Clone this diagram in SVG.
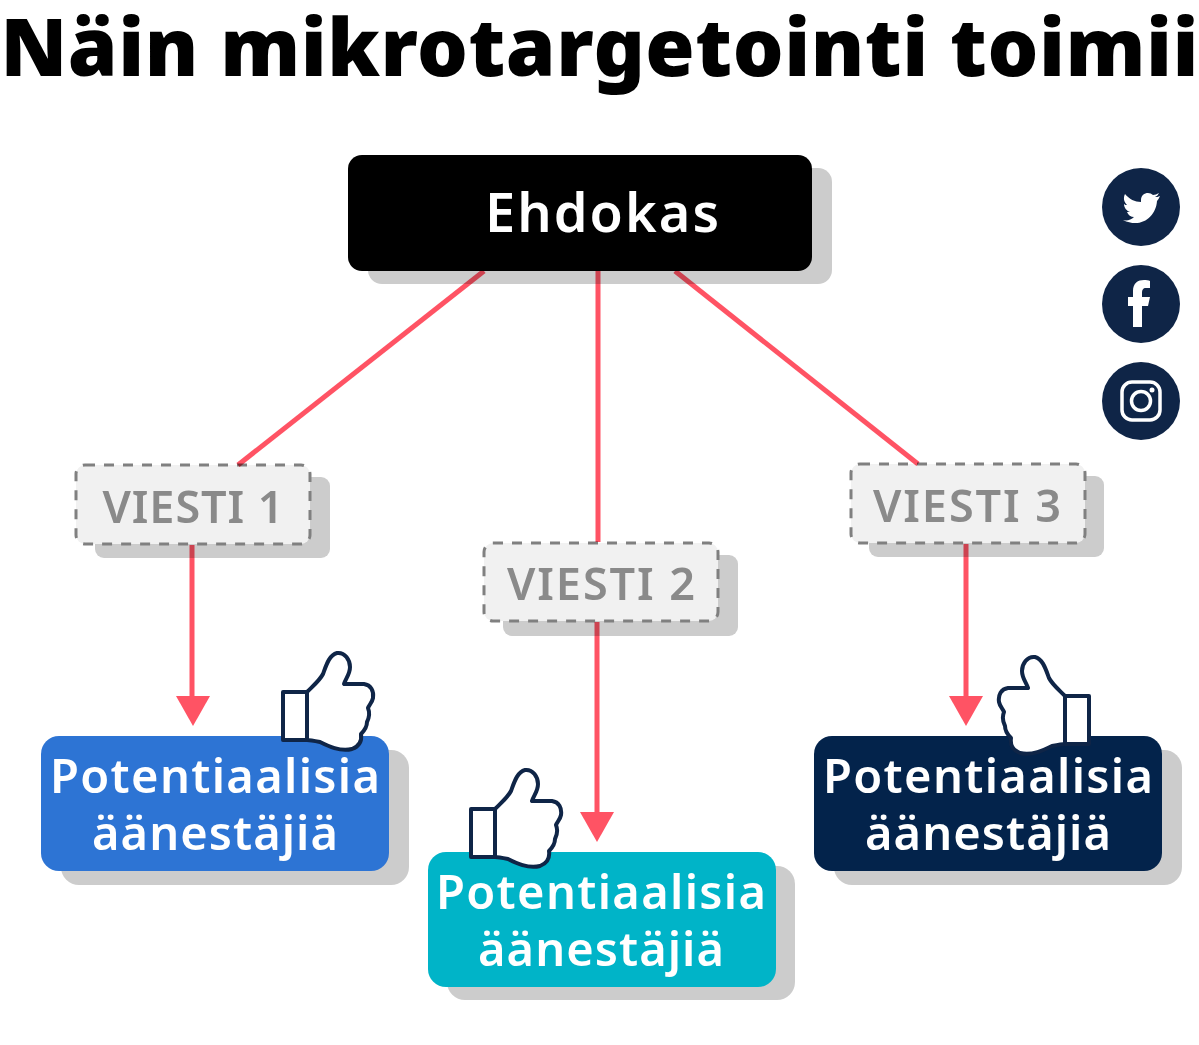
<svg xmlns="http://www.w3.org/2000/svg" width="1199" height="1045" viewBox="0 0 1199 1045">
<style>
text{font-family:"Noto Sans","Open Sans","DejaVu Sans",sans-serif;text-anchor:middle;font-variant-ligatures:none}
.shadow{fill:#cccccc}
.title{font-size:80px;font-weight:900;fill:#000}
.big{font-size:54px;font-weight:600;fill:#fff}
.msg{font-size:45px;font-weight:600;fill:#8a8a8a}
.msgbox{fill:#f1f1f1;stroke:#808080;stroke-width:3;stroke-dasharray:10 9}
.pot{font-size:47px;font-weight:600;fill:#fff}
.link{stroke:#ff5364;stroke-width:5;fill:none;mix-blend-mode:multiply}
.head{fill:#ff5364}
.thumb{fill:#fff;stroke:#0f2547;stroke-width:4;stroke-linejoin:round}
.soc{fill:#0f2547}
.glyph{fill:#fff}
.gl{fill:none;stroke:#fff}
</style>
<defs>
<g id="thumbup">
<path class="thumb" d="M47 52C54 45 60 40 63 34C66 26 69 15 77 13C85 12 90 20 90 27C90 34 86 38 84 44L104 44C111 45 114 51 113 58C112 63 109 65 108 68C110 73 109 78 107 82C107 87 104 91 101 94C102 101 100 106 92 109C80 112 68 106 60 102C55 101 50 100 47 100Z"/>
<rect class="thumb" x="23" y="52" width="24" height="48"/>
</g>
</defs>
<text id="title" class="title" x="599.5" y="76" textLength="1198" lengthAdjust="spacing">Näin mikrotargetointi toimii</text>
<g id="ehdokas">
<rect class="shadow" x="368" y="168" width="464" height="116" rx="14"/>
<rect x="348" y="155" width="464" height="116" rx="14" fill="#000"/>
<text class="big" x="602" y="232" textLength="234" lengthAdjust="spacing">Ehdokas</text>
</g>
<g id="viesti1">
<rect class="shadow" x="95" y="477" width="235" height="81" rx="9"/>
<rect class="msgbox" x="76" y="465" width="234" height="79" rx="9"/>
<text class="msg" x="193" y="523" textLength="181" lengthAdjust="spacing">VIESTI 1</text>
</g>
<g id="viesti2">
<rect class="shadow" x="503" y="555" width="235" height="81" rx="9"/>
<rect class="msgbox" x="484" y="543" width="234" height="78" rx="9"/>
<text class="msg" x="601" y="600" textLength="188" lengthAdjust="spacing">VIESTI 2</text>
</g>
<g id="viesti3">
<rect class="shadow" x="869" y="476" width="235" height="81" rx="9"/>
<rect class="msgbox" x="851" y="464" width="234" height="79" rx="9"/>
<text class="msg" x="967" y="522" textLength="188" lengthAdjust="spacing">VIESTI 3</text>
</g>
<g id="group1">
<rect class="shadow" x="61" y="750" width="348" height="135" rx="18"/>
<rect x="41" y="736" width="348" height="135" rx="18" fill="#2d74d4"/>
<text class="pot" x="215" y="793" textLength="330" lengthAdjust="spacing">Potentiaalisia</text>
<text class="pot" x="215" y="850" textLength="246" lengthAdjust="spacing">äänestäjiä</text>
<use href="#thumbup" transform="translate(260 640)"/>
</g>
<g id="group2">
<rect class="shadow" x="447" y="866" width="348" height="134" rx="18"/>
<rect x="428" y="852" width="348" height="135" rx="18" fill="#00b4c8"/>
<text class="pot" x="601" y="909" textLength="330" lengthAdjust="spacing">Potentiaalisia</text>
<text class="pot" x="601" y="966" textLength="246" lengthAdjust="spacing">äänestäjiä</text>
<use href="#thumbup" transform="translate(448 757)"/>
</g>
<g id="group3">
<rect class="shadow" x="834" y="750" width="348" height="135" rx="18"/>
<rect x="814" y="736" width="348" height="135" rx="18" fill="#03234b"/>
<text class="pot" x="988" y="793" textLength="330" lengthAdjust="spacing">Potentiaalisia</text>
<text class="pot" x="988" y="850" textLength="246" lengthAdjust="spacing">äänestäjiä</text>
<use href="#thumbup" transform="translate(1112 644) scale(-1 1)"/>
</g>
<g id="twitter">
<circle class="soc" cx="1141" cy="207" r="39"/>
<path class="glyph" d="M1160 196C1158 197 1157 197 1155 197C1157 196 1158 195 1159 193C1157 194 1155 195 1153 195C1149 191 1141 193 1141 200C1141 201 1141 201 1141 202C1135 202 1129 199 1125 194C1123 198 1124 202 1127 205C1126 205 1125 205 1124 204C1124 208 1127 211 1130 212C1129 212 1128 212 1127 212C1128 215 1131 217 1134 217C1131 220 1127 221 1123 220C1141 229 1156 217 1157 201C1158 200 1159 198 1160 196Z"/>
</g>
<g id="facebook">
<circle class="soc" cx="1141" cy="304" r="39"/>
<path class="glyph" d="M1133 327L1133 306L1128 306L1128 297L1133 297L1133 291C1133 283 1138 280 1144 280C1146 280 1149 280 1150 281L1150 288L1146 288C1143 288 1142 290 1142 293L1142 297L1150 297L1148 306L1142 306L1142 327Z"/>
</g>
<g id="instagram">
<circle class="soc" cx="1141" cy="401" r="39"/>
<rect class="gl" x="1122" y="382" width="38" height="38" rx="10" stroke-width="3.5"/>
<circle class="gl" cx="1141" cy="401" r="9.5" stroke-width="3.5"/>
<circle class="glyph" cx="1152" cy="390" r="2.5"/>
</g>
<g id="connectors">
<line class="link" x1="484" y1="271" x2="238" y2="465"/>
<line class="link" x1="598" y1="271" x2="598" y2="542"/>
<line class="link" x1="675" y1="271" x2="918" y2="464"/>
<line class="link" x1="192" y1="545" x2="192" y2="698"/>
<polygon class="head" points="176,696 210,696 193,726"/>
<line class="link" x1="597" y1="622" x2="597" y2="814"/>
<polygon class="head" points="580,812 614,812 597,842"/>
<line class="link" x1="966" y1="544" x2="966" y2="698"/>
<polygon class="head" points="949,696 983,696 966,726"/>
</g>
</svg>
